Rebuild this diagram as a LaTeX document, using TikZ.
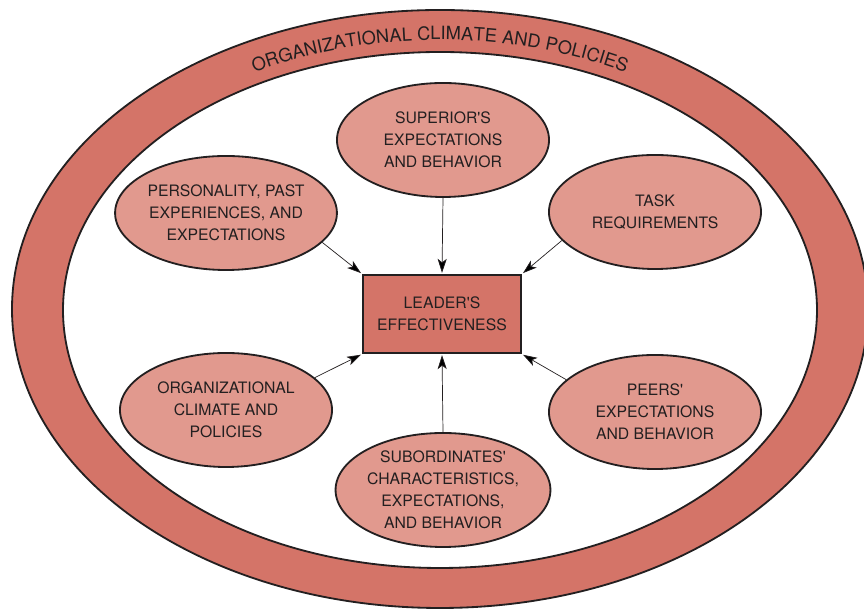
\documentclass[tikz,border=0pt]{standalone}
\usepackage{fontspec}
\setmainfont{TeX Gyre Heros}
\usetikzlibrary{
	arrows.meta,
	shapes.geometric,
	decorations.text,
	positioning
}
\definecolor{RingRed}{RGB}{212,116,104}
\definecolor{FactorPink}{RGB}{225,153,142}
\definecolor{InkDark}{RGB}{35,31,32}

\begin{document}
\begin{tikzpicture}[x=0.025cm, y=0.025cm,
	factor/.style={ellipse, draw=InkDark, line width=1.3pt, fill=FactorPink,
		minimum width=5.3cm, minimum height=2.85cm, inner sep=0pt, align=center,
		text=InkDark, font=\fontsize{11.2}{15.6}\selectfont},
	leaderbox/.style={rectangle, draw=InkDark, line width=2pt, fill=RingRed,
		minimum width=3.95cm, minimum height=1.95cm, align=center,
		text=InkDark, font=\fontsize{11.2}{15.6}\selectfont},
	influence/.style={draw=InkDark, line width=0.5pt,
		-{Stealth[length=10pt, width=6.5pt, inset=2.5pt]}, shorten >=0.5pt}]
	\useasboundingbox (0,0) rectangle (864,609);
	% outer ring
	\draw[InkDark, line width=1.3pt, fill=RingRed, even odd rule]
		(440,300) ellipse [x radius=428, y radius=299]
		(440,299) ellipse [x radius=377, y radius=258];
	\path[decorate, decoration={text along path, text align=center, text color=InkDark,
		text={|\fontsize{13}{13}\selectfont|ORGANIZATIONAL CLIMATE AND POLICIES}}]
		(440,300) ++(160:391 and 269) arc[start angle=160, end angle=20, x radius=391, y radius=269];
	% factors
	\node[leaderbox] (leader) at (442,295) {LEADER\textquotesingle S\\EFFECTIVENESS};
	\node[factor] (superior) at (443,469) {SUPERIOR\textquotesingle S\\EXPECTATIONS\\AND BEHAVIOR};
	\node[factor] (past) at (226,396) {PERSONALITY, PAST\\EXPERIENCES, AND\\EXPECTATIONS};
	\node[factor] (task) at (655,397) {TASK\\REQUIREMENTS};
	\node[factor] (orgclimate) at (226,199) {ORGANIZATIONAL\\CLIMATE AND\\POLICIES};
	\node[factor] (peers) at (655,197) {PEERS\textquotesingle\\EXPECTATIONS\\AND BEHAVIOR};
	\node[factor] (subordinates) at (443,119) {SUBORDINATES\textquotesingle\\CHARACTERISTICS,\\EXPECTATIONS,\\AND BEHAVIOR};
	% arrows
	\draw[influence] (superior.south) -- (leader.north);
	\draw[influence] (subordinates.north) -- (leader.south);
	\draw[influence] (past.-17) -- (leader.north west);
	\draw[influence] (task.197) -- (leader.north east);
	\draw[influence] (orgclimate.20) -- (leader.south west);
	\draw[influence] (peers.160) -- (leader.south east);
\end{tikzpicture}
\end{document}
